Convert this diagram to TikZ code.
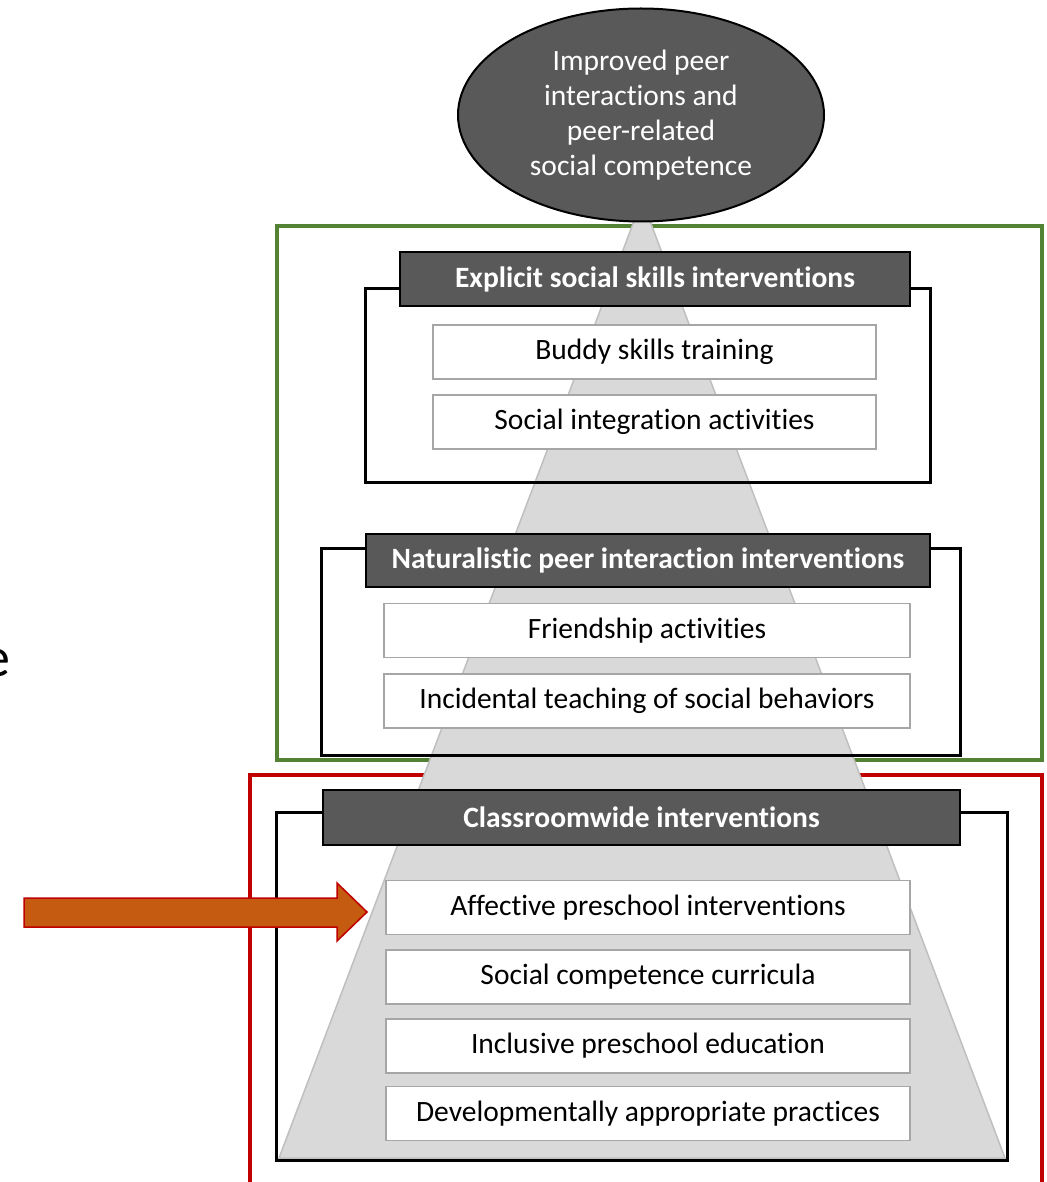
\documentclass[tikz,border=0pt]{standalone}
\usepackage{fontspec}
\setmainfont[Ligatures=NoCommon]{Carlito}
\usetikzlibrary{shapes.geometric}
\definecolor{hdrgray}{HTML}{595959}
\definecolor{itemgray}{HTML}{A6A6A6}
\definecolor{pyrfill}{HTML}{D9D9D9}
\definecolor{pyrline}{HTML}{BFBFBF}
\definecolor{grn}{HTML}{548235}
\definecolor{rd}{HTML}{C00000}
\definecolor{orng}{HTML}{C55A11}
\newcommand{\txtsz}{\fontsize{29.5}{35}\selectfont}
\tikzset{
  itembox/.style={draw=itemgray, fill=white, line width=1.5pt, inner sep=0pt, outer sep=0pt, minimum height=54pt, font=\txtsz},
  hdrbox/.style={draw=black, fill=hdrgray, text=white, line width=1.5pt, inner sep=0pt, outer sep=0pt, font=\txtsz\bfseries},
  groupbox/.style={draw=black, line width=3pt},
  framegrn/.style={draw=grn, line width=4pt},
  framered/.style={draw=rd, line width=4pt},
  pyramid/.style={fill=pyrfill, draw=pyrline, line width=1.5pt},
  goal/.style={ellipse, draw=black, fill=hdrgray, text=white, line width=2pt, minimum width=366pt, minimum height=213pt, inner sep=0pt, align=center, font=\txtsz},
  arrowshape/.style={fill=orng, draw=rd, line width=1.5pt, line join=miter}
}
\begin{document}
\begin{tikzpicture}[x=1pt,y=-1pt]
\useasboundingbox (0,0) rectangle (1046,1182);
% frames
\draw[framegrn] (277,226) rectangle (1042,760);
\draw[framered] (250,775) rectangle (1042,1190);
% pyramid
\draw[pyramid] (642,200) -- (1005,1158) -- (279,1158) -- cycle;
% group outlines
\draw[groupbox] (365,288) rectangle (930,482);
\draw[groupbox] (321,548) rectangle (960,755);
\draw[groupbox] (276,812) rectangle (1007,1160);
% headers
\node[hdrbox, minimum width=510pt, minimum height=54pt] (h1) at (655,279) {Explicit social skills interventions};
\node[hdrbox, minimum width=564pt, minimum height=53pt] (h2) at (648,560.5) {Naturalistic peer interaction interventions};
\node[hdrbox, minimum width=637pt, minimum height=55pt] (h3) at (641.5,817.5) {Classroomwide interventions};
% items
\node[itembox, minimum width=443pt] (i1) at (654.5,352) {Buddy skills training};
\node[itembox, minimum width=443pt] (i2) at (654.5,422) {Social integration activities};
\node[itembox, minimum width=526pt] (i3) at (647,630.5) {Friendship activities};
\node[itembox, minimum width=526pt] (i4) at (647,701) {Incidental teaching of social behaviors};
\node[itembox, minimum width=524pt] (i5) at (648,907.5) {Affective preschool interventions};
\node[itembox, minimum width=524pt] (i6) at (648,977) {Social competence curricula};
\node[itembox, minimum width=524pt] (i7) at (648,1046) {Inclusive preschool education};
\node[itembox, minimum width=524pt] (i8) at (648,1113.5) {Developmentally appropriate practices};
% goal
\node[goal] (goal) at (641,115) {Improved peer\\interactions and\\peer-related\\social competence};
% arrow
\coordinate (atip) at (367,912);
\draw[arrowshape] (24,898) -- (337,898) -- (337,883) -- (atip) -- (337,941) -- (337,927) -- (24,927) -- cycle;
% cut-off letter
\node[anchor=base east, inner sep=0pt, font=\fontsize{56}{60}\selectfont] (cut) at (11,676) {e};
\end{tikzpicture}
\end{document}
